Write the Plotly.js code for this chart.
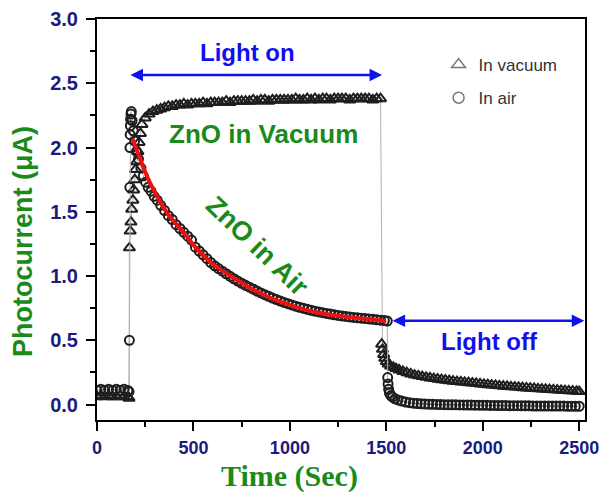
<!DOCTYPE html>
<html>
<head>
<meta charset="utf-8">
<script src="https://cdn.plot.ly/plotly-3.0.1.min.js"></script>
<style>html,body{margin:0;padding:0;background:#fff}#chart{width:600px;height:493px}</style>
</head>
<body>
<div id="chart"></div>
<script>
// ---- Data ----
// In vacuum (triangles): time (s) and photocurrent (uA)
var vacT = [0,20,40,60,80,100,120,140,160,166,168,172,176,180,186,190,196,200,206,212,218,225,233,250,270,290,310,330,350,370,390,
  410,430,450,470,490,510,530,550,570,590,610,630,650,670,690,710,730,750,770,790,810,830,850,870,890,910,930,950,970,990,
  1010,1030,1050,1070,1090,1110,1130,1150,1170,1190,1210,1230,1250,1270,1290,1310,1330,1350,1370,1390,1410,1430,1450,1470,
  1476,1480,1486,1492,1500,1510,1522,1536,1550,1566,1586,1606,1626,1646,
  1666,1686,1706,1726,1746,1766,1786,1806,1826,1846,1866,1886,1906,1926,1946,1966,1986,2006,2026,2046,2066,2086,2106,2126,
  2146,2166,2186,2206,2226,2246,2266,2286,2306,2326,2346,2366,2386,2406,2426,2446,2466,2486,2500];
var vacI = [0.06,0.07,0.06,0.07,0.06,0.06,0.07,0.06,0.06,0.05,1.22,1.35,1.42,1.52,1.59,1.67,1.75,1.83,1.89,1.97,2.04,2.11,2.18,2.23,2.26,2.28,2.29,2.30,2.31,2.32,2.32,
  2.33,2.33,2.34,2.33,2.34,2.34,2.34,2.35,2.34,2.35,2.35,2.35,2.35,2.36,2.35,2.36,2.36,2.36,2.36,2.36,2.37,2.36,2.37,2.37,2.36,2.37,2.37,2.37,2.37,2.37,
  2.37,2.38,2.37,2.37,2.38,2.37,2.38,2.37,2.38,2.38,2.37,2.38,2.38,2.38,2.38,2.37,2.38,2.38,2.38,2.38,2.38,2.37,2.38,2.38,
  0.47,0.43,0.39,0.36,0.335,0.315,0.30,0.29,0.28,0.27,0.258,0.248,0.238,0.23,
  0.224,0.218,0.212,0.207,0.202,0.198,0.194,0.19,0.186,0.182,0.179,0.176,0.173,0.17,0.167,0.164,0.161,0.158,0.155,0.152,0.149,0.146,0.143,0.141,
  0.138,0.136,0.134,0.131,0.129,0.127,0.125,0.123,0.121,0.119,0.117,0.115,0.113,0.111,0.109,0.107,0.105,0.103,0.101];

// In air (circles)
var airT = [0,20,40,60,80,100,120,140,160,166,168,170,171,172,173,174,176,178,182,188,195,205,215,228,240,252,265,280,296,312,
  330,350,370,390,410,430,450,470,490,510,530,550,570,590,610,630,650,670,690,710,730,750,770,790,810,830,850,870,890,910,
  930,950,970,990,1010,1030,1050,1070,1090,1110,1130,1150,1170,1190,1210,1230,1250,1270,1290,1310,1330,1350,1370,1390,1410,1430,1450,1470,1490,1505,
  1507,1509,1512,1516,1524,1532,1545,1560,1580,1600,1620,1640,1660,
  1680,1700,1720,1740,1760,1780,1800,1820,1840,1860,1880,1900,1920,1940,1960,1980,2000,2020,2040,2060,2080,2100,2120,2140,2160,2180,
  2200,2220,2240,2260,2280,2300,2320,2340,2360,2380,2400,2420,2440,2460,2480,2500];
var airI = [0.11,0.12,0.11,0.12,0.11,0.12,0.11,0.12,0.11,0.10,0.50,1.69,2.00,2.10,2.17,2.22,2.26,2.28,2.21,2.13,2.05,1.97,1.91,1.84,1.78,1.73,1.69,1.66,1.62,1.59,
  1.55,1.51,1.47,1.44,1.40,1.37,1.34,1.31,1.28,1.225,1.195,1.165,1.135,1.105,1.08,1.058,1.038,1.018,0.998,0.979,0.961,0.944,0.928,0.913,0.898,0.883,0.869,0.855,0.842,0.829,
  0.817,0.806,0.795,0.785,0.775,0.766,0.757,0.749,0.741,0.734,0.727,0.721,0.715,0.709,0.704,0.699,0.694,0.69,0.686,0.682,0.678,0.675,0.672,0.669,0.666,0.663,0.66,0.657,0.654,0.65,
  0.21,0.16,0.12,0.09,0.07,0.058,0.045,0.036,0.027,0.02,0.015,0.011,0.008,
  0.006,0.004,0.003,0.002,0.001,0.0,-0.001,-0.001,-0.002,-0.002,-0.003,-0.003,-0.004,-0.004,-0.005,-0.005,-0.006,-0.006,-0.007,-0.007,-0.008,-0.008,-0.008,-0.009,-0.009,-0.009,
  -0.01,-0.01,-0.01,-0.011,-0.011,-0.011,-0.011,-0.012,-0.012,-0.012,-0.012,-0.012,-0.013,-0.013,-0.013,-0.013];

// Red fitted decay curve (in air)
var fitT = [183,227,261,312,364,437,504,591,633,719,805,892,979,1064,1151,1238,1324,1411,1497];
var fitI = [2.07,1.90,1.77,1.62,1.49,1.36,1.235,1.105,1.058,0.975,0.898,0.835,0.785,0.745,0.715,0.693,0.677,0.663,0.651];

var seriesNames = ['In vacuum', 'In air'];
var xTitle = 'Time (Sec)';
var yTitle = 'Photocurrent (\u03bcA)';

// ---- Styles ----
var GREEN = '#1a8a1a', BLUE = '#1010ee', NAVY = '#1a1a80';
var SANS = 'Liberation Sans, Arial, sans-serif';

var traces = [
  {x: vacT, y: vacI, mode: 'lines+markers', showlegend: false,
   line: {color: '#b0b0b0', width: 1},
   marker: {symbol: 'triangle-up-open', size: 10, color: '#1e1e1e', line: {width: 2, color: '#1e1e1e'}}},
  {x: airT, y: airI, mode: 'lines+markers', showlegend: false,
   line: {color: '#b0b0b0', width: 1},
   marker: {symbol: 'circle-open', size: 9, color: '#1e1e1e', line: {width: 2, color: '#1e1e1e'}}},
  {x: fitT, y: fitI, mode: 'lines', showlegend: false,
   line: {color: '#ee1111', width: 4, shape: 'spline'}},
  {x: [null], y: [null], mode: 'markers', name: seriesNames[0], legendgroup: 'a',
   marker: {symbol: 'triangle-up-open', size: 12, color: '#777', line: {width: 1.5, color: '#777'}}},
  {x: [null], y: [null], mode: 'markers', name: seriesNames[1], legendgroup: 'b',
   marker: {symbol: 'circle-open', size: 11, color: '#777', line: {width: 1.5, color: '#777'}}}
];

var layout = {
  width: 600, height: 493,
  margin: {l: 97, r: 15, t: 19, b: 73, pad: 0},
  paper_bgcolor: '#fff', plot_bgcolor: '#fff',
  showlegend: true,
  legend: {x: 0.70, y: 0.93, xanchor: 'left', yanchor: 'top', bgcolor: 'rgba(0,0,0,0)',
           font: {family: SANS, size: 17, color: '#333'}, tracegroupgap: 8, itemwidth: 30},
  xaxis: {
    range: [0, 2530], tick0: 0, dtick: 500,
    showline: true, linewidth: 2, linecolor: '#000', mirror: true,
    ticks: 'outside', ticklen: 9, tickwidth: 2, tickcolor: '#000',
    minor: {dtick: 250, ticks: 'outside', ticklen: 5, tickwidth: 2, tickcolor: '#000', showgrid: false},
    showgrid: false, zeroline: false,
    tickfont: {family: SANS, size: 18, color: NAVY, weight: 'bold'},
    ticklabelstandoff: 1, ticklabeloverflow: 'allow'
  },
  yaxis: {
    range: [-0.12, 3.0], tick0: 0, dtick: 0.5, tickformat: '.1f',
    showline: true, linewidth: 2, linecolor: '#000', mirror: true,
    ticks: 'outside', ticklen: 9, tickwidth: 2, tickcolor: '#000',
    minor: {dtick: 0.25, ticks: 'outside', ticklen: 5, tickwidth: 2, tickcolor: '#000', showgrid: false},
    showgrid: false, zeroline: false,
    tickfont: {family: SANS, size: 20, color: NAVY, weight: 'bold'},
    ticklabelstandoff: 4
  },
  annotations: [
    {x: -0.152, y: 0.446, xref: 'paper', yref: 'paper', text: yTitle, showarrow: false, textangle: -90,
     xanchor: 'center', yanchor: 'middle',
     font: {family: SANS, size: 27, color: GREEN, weight: 'bold'}},
    {x: 0.395, y: -0.139, xref: 'paper', yref: 'paper', text: xTitle, showarrow: false,
     xanchor: 'center', yanchor: 'middle',
     font: {family: 'Liberation Serif, Times New Roman, serif', size: 30, color: GREEN, weight: 'bold'}},
    {x: 778, y: 2.74, xref: 'x', yref: 'y', text: 'Light on', showarrow: false,
     font: {family: SANS, size: 24, color: BLUE, weight: 'bold'}},
    {x: 1478, y: 2.565, ax: 166, ay: 2.565, xref: 'x', yref: 'y', axref: 'x', ayref: 'y', text: '',
     showarrow: true, arrowside: 'end+start', arrowhead: 2, arrowsize: 1, arrowwidth: 2.5, arrowcolor: BLUE, standoff: 0, startstandoff: 0},
    {x: 2033, y: 0.49, xref: 'x', yref: 'y', text: 'Light off', showarrow: false,
     font: {family: SANS, size: 24, color: BLUE, weight: 'bold'}},
    {x: 2526, y: 0.653, ax: 1525, ay: 0.653, xref: 'x', yref: 'y', axref: 'x', ayref: 'y', text: '',
     showarrow: true, arrowside: 'end+start', arrowhead: 2, arrowsize: 1, arrowwidth: 2.5, arrowcolor: BLUE, standoff: 0, startstandoff: 0},
    {x: 861, y: 2.106, xref: 'x', yref: 'y', text: 'ZnO in Vacuum', showarrow: false,
     font: {family: SANS, size: 26, color: GREEN, weight: 'bold'}},
    {x: 830, y: 1.23, xref: 'x', yref: 'y', text: 'ZnO in Air', showarrow: false, textangle: 44,
     font: {family: SANS, size: 27, color: GREEN, weight: 'bold'}}
  ]
};

Plotly.newPlot('chart', traces, layout, {staticPlot: true, displayModeBar: false});
</script>
</body>
</html>
